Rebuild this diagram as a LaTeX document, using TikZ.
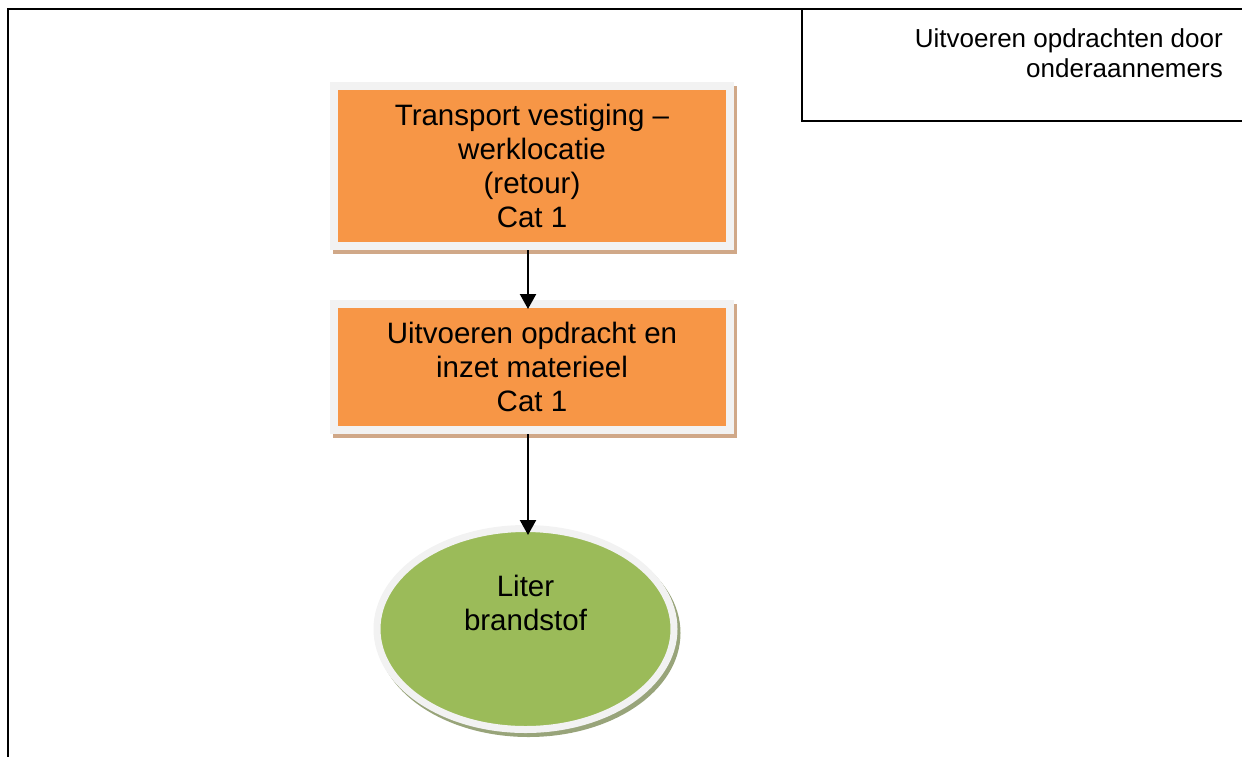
\documentclass[tikz,border=0pt]{standalone}
\usepackage{fontspec}
\setmainfont{Liberation Sans}
\usetikzlibrary{arrows.meta,shadows,shapes.geometric}
\definecolor{orangeF}{HTML}{F79646}
\definecolor{greenF}{HTML}{9BBB59}
\definecolor{borderG}{HTML}{F2F2F2}
\definecolor{tanS}{HTML}{D0A888}
\definecolor{greenS}{HTML}{98A47A}
\newcommand\boxfont{\fontsize{29.5}{34}\selectfont}
\newcommand\notefont{\fontsize{26}{30}\selectfont}
\tikzset{
  procbox/.style={rectangle, fill=orangeF, draw=borderG, line width=8pt,
    minimum width=396pt, inner sep=0pt, align=center, font=\boxfont,
    general shadow={fill=tanS, draw=tanS, shadow xshift=3pt, shadow yshift=-4pt}},
  resultell/.style={ellipse, fill=greenF, draw=borderG, line width=7pt,
    minimum width=297pt, minimum height=201pt, inner sep=0pt,
    general shadow={fill=greenS, draw=greenS, shadow xshift=3pt, shadow yshift=-4pt}},
  flowarrow/.style={line width=2.2pt, -{Triangle[width=16pt,length=15pt]}},
  frameline/.style={line width=2.4pt, line cap=rect},
  noteline/.style={line width=1.6pt},
}
\begin{document}
\begin{tikzpicture}[x=1pt,y=-1pt]
\useasboundingbox (0,0) rectangle (1242,756);
% outer frame
\coordinate (fbl) at (8,756);
\coordinate (ftl) at (8,9);
\coordinate (ftr) at (1242,9);
\draw[frameline] (fbl) -- (ftl) -- (ftr);
% note box
\coordinate (ntl) at (802,9);
\coordinate (nbl) at (802,121);
\coordinate (nbr) at (1242,121);
\draw[noteline] (ntl) -- (nbl) -- (nbr);
\node[anchor=east, align=right, font=\notefont, inner sep=0pt] (note) at (1223,53)
  {Uitvoeren opdrachten door\\onderaannemers};
% process boxes
\node[procbox, minimum height=160pt] (b1) at (532,166)
  {Transport vestiging --\\werklocatie\\(retour)\\Cat 1};
\node[procbox, minimum height=126pt] (b2) at (532,367)
  {Uitvoeren opdracht en\\inzet materieel\\Cat 1};
% result ellipse
\node[resultell] (ell) at (525.5,629) {};
\node[font=\boxfont, align=center, inner sep=0pt] (elltext) at ([yshift=26pt]ell.center)
  {Liter\\brandstof};
% connectors
\draw[flowarrow, shorten >=-9pt] ([xshift=-4pt]b1.south) -- ([xshift=-4pt]b2.north);
\draw[flowarrow, shorten >=-10pt] ([xshift=-4pt]b2.south) -- ([xshift=2.5pt]ell.north);
\end{tikzpicture}
\end{document}
